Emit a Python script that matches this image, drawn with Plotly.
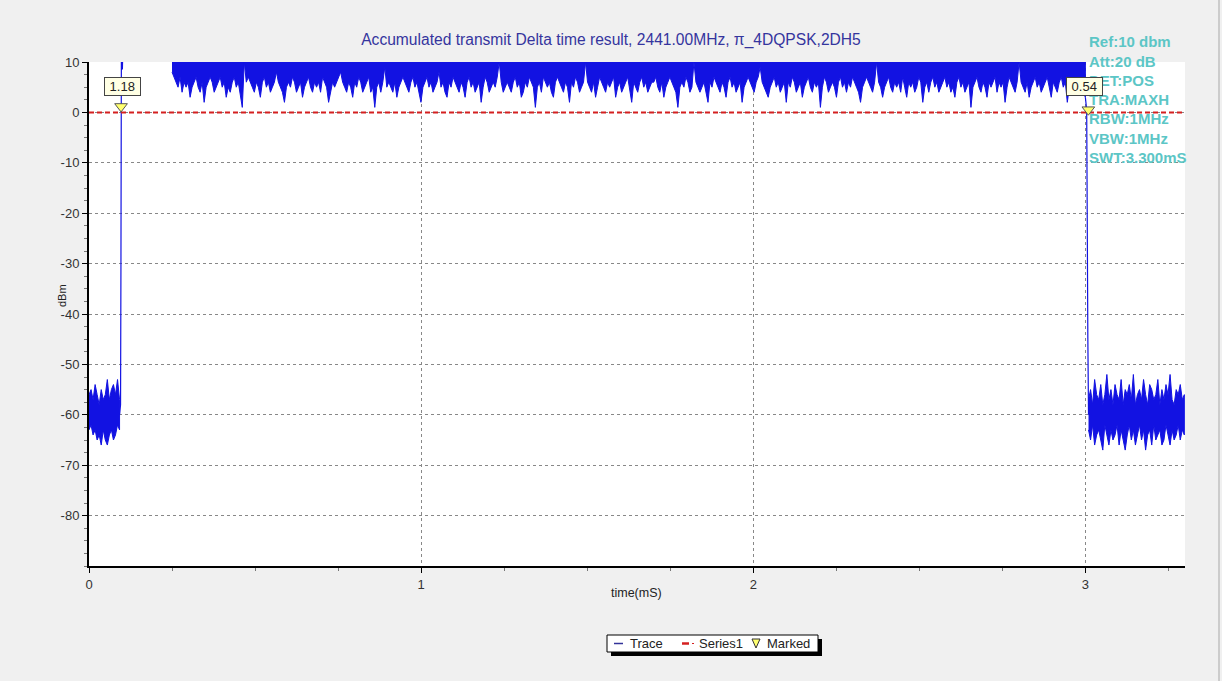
import numpy as np
import plotly.graph_objects as go

# ---------------- data ----------------
title_text = "Accumulated transmit Delta time result, 2441.00MHz, \u03c0_4DQPSK,2DH5"
x_ticks = [0, 1, 2, 3]
y_ticks = [10, 0, -10, -20, -30, -40, -50, -60, -70, -80]
x_range = [0, 3.3]
y_range = [-90, 10]

# noise floor before the burst: time span (ms), upper / lower envelope (dBm)
pre_t = (0.0, 0.092)
pre_upper = [-56, -55, -57, -54, -56, -58, -55, -57, -56, -53, -57, -55, -54, -56, -53, -57]
pre_lower = [-63, -62, -64, -63, -65, -64, -66, -63, -65, -66, -64, -63, -65, -64, -62, -63]

# rising edge samples
rise_t = [0.092, 0.095, 0.0962, 0.0975, 0.1005, 0.102]
rise_v = [-60, -58, -30, 12, 8.5, 13]

# burst: time span (ms), lower envelope (dBm); upper envelope clipped at ref level
band_t = (0.25, 3.0)
band_top = [10.5, 10.5]
band_floor = [
    8, 7, 6, 5, 7, 4, 6, 5, 6, 3, 5, 6, 7, 5, 4, 6, 2, 5, 6, 7, 6, 4, 5, 6,
    7, 5, 6, 3, 5, 4, 6, 7, 5, 6, 4, 1, 10, 6, 7, 6, 5, 4, 6, 5, 3, 6, 7, 5,
    6, 4, 5, 6, 8, 6, 5, 4, 2, 5, 6, 5, 7, 6, 4, 5, 6, 3, 5, 6, 7, 5, 4, 6,
    5, 6, 4, 7, 6, 5, 2, 4, 6, 5, 6, 7, 8, 6, 5, 4, 6, 5, 3, 6, 5, 7, 6, 4,
    5, 6, 7, 4, 5, 1, 5, 6, 4, 6, 9, 5, 6, 5, 4, 6, 3, 5, 6, 7, 6, 5, 4, 6,
    7, 5, 6, 4, 2, 5, 6, 7, 5, 6, 4, 5, 6, 8, 5, 6, 4, 3, 6, 5, 7, 6, 5, 4,
    6, 5, 3, 6, 7, 5, 6, 4, 5, 6, 2, 5, 7, 6, 4, 5, 6, 5, 7, 10, 6, 4, 5, 6,
    5, 4, 6, 7, 5, 6, 3, 4, 6, 5, 7, 6, 5, 1, 5, 6, 4, 7, 6, 5, 6, 4, 3, 6,
    7, 6, 5, 4, 6, 5, 2, 6, 5, 7, 6, 4, 5, 6, 10, 6, 5, 4, 6, 3, 5, 7, 6, 5,
    4, 6, 5, 6, 7, 3, 5, 6, 4, 5, 6, 7, 5, 2, 6, 5, 4, 6, 7, 5, 6, 4, 5, 6,
    6, 7, 5, 4, 6, 3, 5, 6, 7, 6, 5, 4, 1, 5, 6, 5, 7, 6, 4, 5, 10, 6, 5, 4,
    5, 6, 4, 2, 6, 5, 7, 6, 5, 4, 6, 5, 3, 6, 7, 5, 6, 4, 5, 6, 2, 5, 6, 7,
    6, 5, 4, 6, 7, 9, 6, 5, 4, 3, 5, 6, 7, 5, 6, 4, 5, 6, 2, 6, 5, 7, 6, 4,
    5, 6, 3, 5, 6, 7, 5, 4, 6, 5, 6, 1, 5, 7, 6, 4, 5, 6, 5, 3, 6, 7, 5, 6,
    4, 6, 5, 7, 6, 5, 4, 2, 5, 6, 7, 6, 5, 4, 6, 10, 6, 5, 3, 5, 6, 7, 5, 4,
    6, 5, 6, 4, 7, 5, 3, 6, 5, 6, 4, 5, 7, 6, 2, 5, 6, 4, 6, 7, 5, 6, 4, 5,
    6, 7, 5, 6, 4, 5, 3, 6, 7, 5, 6, 4, 5, 6, 1, 5, 6, 7, 5, 4, 6, 5, 3, 6,
    5, 6, 7, 4, 6, 5, 6, 2, 5, 7, 6, 5, 4, 6, 10, 6, 5, 4, 6, 3, 5, 6, 7, 5,
    6, 4, 5, 6, 7, 5, 3, 6, 5, 4, 6, 7, 5, 6, 2, 5, 6, 4, 6, 5, 7, 6, 4, 3,
]

# falling edge samples
fall_t = [3.0, 3.004, 3.0075, 3.0095]
fall_v = [3, 0.5, -45, -60]

# noise floor after the burst
post_t = (3.0095, 3.298)
post_upper = [-57, -55, -58, -53, -56, -57, -54, -58, -56, -52, -57, -55, -58, -54, -56, -57,
              -53, -58, -55, -56, -54, -57, -52, -58, -56, -55, -57, -53, -56, -58, -54, -55,
              -57, -56, -53, -58, -55, -57, -54, -56, -52, -57, -58, -55, -56, -54, -57, -56]
post_lower = [-63, -65, -62, -66, -64, -63, -65, -67, -62, -64, -66, -63, -65, -64, -62, -66,
              -63, -65, -67, -64, -62, -65, -63, -66, -64, -62, -65, -63, -67, -64, -63, -66,
              -62, -65, -64, -63, -66, -65, -62, -64, -66, -63, -65, -64, -62, -65, -63, -64]

series1_x = [0.0, 3.3]
series1_y = [0.0, 0.0]

marker_x = [0.0965, 3.009]
marker_y = [1.18, 0.54]
marker_labels = ["1.18", "0.54"]

info_lines = ["Ref:10 dbm", "Att:20 dB", "DET:POS", "TRA:MAXH",
              "RBW:1MHz", "VBW:1MHz", "SWT:3.300mS"]

legend_names = ["Trace", "Series1", "Marked"]

# ---------------- geometry helpers ----------------
W, H = 1222, 681
L, R, T, B = 89, 1185, 62, 566

def px(xp):
    return (xp - L) / (R - L)

def py(yp):
    return (B - yp) / (B - T)

FONT = "Liberation Sans, Arial, sans-serif"
TRACE_C = "#1212E2"
RED = "#D42020"

def envelope_polygon(span, upper, lower):
    tu = np.linspace(span[0], span[1], len(upper))
    tl = np.linspace(span[0], span[1], len(lower))
    xs = np.concatenate([tu, tl[::-1]])
    ys = np.concatenate([np.array(upper, float), np.array(lower, float)[::-1]])
    return xs, ys

fig = go.Figure()

pieces = [
    envelope_polygon(pre_t, pre_upper, pre_lower),
    envelope_polygon(band_t, band_top, band_floor),
    envelope_polygon(post_t, post_upper, post_lower),
]
for xs, ys in pieces:
    fig.add_trace(go.Scatter(x=xs, y=ys, mode="lines", fill="toself",
                             fillcolor=TRACE_C, line=dict(color=TRACE_C, width=1),
                             name=legend_names[0], hoverinfo="skip"))
fig.add_trace(go.Scatter(x=rise_t, y=rise_v, mode="lines",
                         line=dict(color=TRACE_C, width=1.2), name=legend_names[0]))
fig.add_trace(go.Scatter(x=fall_t, y=fall_v, mode="lines",
                         line=dict(color=TRACE_C, width=1.2), name=legend_names[0]))

fig.add_trace(go.Scatter(x=series1_x, y=series1_y, mode="lines",
                         line=dict(color=RED, width=2, dash="5px,3px"), name=legend_names[1]))
fig.add_trace(go.Scatter(x=marker_x, y=marker_y, mode="markers",
                         marker=dict(symbol="triangle-down", size=11, color="#FFFF70",
                                     line=dict(color="#555555", width=1)),
                         name=legend_names[2]))

axis_common = dict(
    showgrid=True, gridcolor="#888888", griddash="3px,3px", gridwidth=1,
    showline=True, linecolor="black", linewidth=2, mirror=False,
    ticks="outside", ticklen=5, tickcolor="black", zeroline=False,
    tickfont=dict(family=FONT, size=13, color="#333333"),
)
fig.update_xaxes(range=x_range, tickvals=x_ticks, ticktext=[str(v) for v in x_ticks],
                 minor=dict(tick0=0, dtick=0.25, ticks="outside", ticklen=3,
                            tickcolor="#777777", showgrid=False),
                 **axis_common)
fig.update_yaxes(range=y_range, tickvals=y_ticks, ticktext=[str(v) for v in y_ticks],
                 minor=dict(tick0=0, dtick=2.5, ticks="outside", ticklen=3,
                            tickcolor="#777777", showgrid=False),
                 **axis_common)

annotations = []
annotations.append(dict(x=px(636), y=py(602), xref="paper", yref="paper",
                        text="time(mS)", showarrow=False,
                        font=dict(family=FONT, size=12.5, color="#222222")))
annotations.append(dict(x=px(62), y=py(296), xref="paper", yref="paper",
                        xanchor="center", yanchor="middle",
                        text="dBm", showarrow=False, textangle=-90,
                        font=dict(family=FONT, size=11, color="#222222")))
for i, s in enumerate(info_lines):
    annotations.append(dict(x=px(1087), y=py(42 + 19.2 * i), xref="paper", yref="paper",
                            text="<b>" + s + "</b>", showarrow=False, xanchor="left",
                            yanchor="middle",
                            font=dict(family=FONT, size=15, color="#5CC6C6")))
label_shift = [1, -4]
for mx, lab, sh in zip(marker_x, marker_labels, label_shift):
    annotations.append(dict(x=mx, y=py(86.5), xref="x", yref="paper",
                            text="&nbsp;" + lab + "&nbsp;",
                            xanchor="center", yanchor="middle",
                            showarrow=False, xshift=sh, bgcolor="#FFFFE4",
                            bordercolor="#444444", borderwidth=1, borderpad=1,
                            font=dict(family=FONT, size=13, color="#222222")))

lx0, ly0, lx1, ly1 = 607, 635, 818, 652
lyc = (ly0 + ly1) / 2
shapes = [
    dict(type="rect", xref="paper", yref="paper", x0=px(lx0 + 4), y0=py(ly0 + 4),
         x1=px(lx1 + 4), y1=py(ly1 + 4), fillcolor="black", line=dict(width=0)),
    dict(type="rect", xref="paper", yref="paper", x0=px(lx0), y0=py(ly0),
         x1=px(lx1), y1=py(ly1), fillcolor="white", line=dict(color="black", width=1)),
    dict(type="line", xref="paper", yref="paper", x0=px(614), y0=py(lyc),
         x1=px(623), y1=py(lyc), line=dict(color="#333399", width=1.5)),
    dict(type="line", xref="paper", yref="paper", x0=px(682), y0=py(lyc),
         x1=px(689), y1=py(lyc), line=dict(color=RED, width=2.5)),
    dict(type="line", xref="paper", yref="paper", x0=px(692), y0=py(lyc),
         x1=px(694), y1=py(lyc), line=dict(color=RED, width=1)),
    dict(type="path", xref="paper", yref="paper",
         path="M {a},{b} L {c},{b} L {d},{e} Z".format(
             a=px(752), b=py(639), c=px(760), d=px(756), e=py(648)),
         fillcolor="#FFFF70", line=dict(color="#333333", width=1)),
    dict(type="line", xref="paper", yref="paper", x0=px(1219), y0=py(0),
         x1=px(1219), y1=py(681), line=dict(color="#A8A8A8", width=1)),
]
for name, xl in zip(legend_names, [628, 697, 765]):
    annotations.append(dict(x=px(xl), y=py(lyc), xref="paper", yref="paper", text=name,
                            showarrow=False, xanchor="left", yanchor="middle",
                            font=dict(family=FONT, size=13, color="#222222")))

fig.update_layout(
    width=W, height=H,
    paper_bgcolor="#F0F0F0", plot_bgcolor="white",
    margin=dict(l=L, r=W - R, t=T, b=H - B),
    showlegend=False,
    title=dict(text=title_text, x=0.5, xanchor="center", y=1 - 40 / H, yanchor="middle",
               font=dict(family=FONT, size=15.6, color="#35359E")),
    annotations=annotations, shapes=shapes,
)

fig.write_html("out.html", config={"displayModeBar": False},
               post_script="document.body.style.margin='0px';")
